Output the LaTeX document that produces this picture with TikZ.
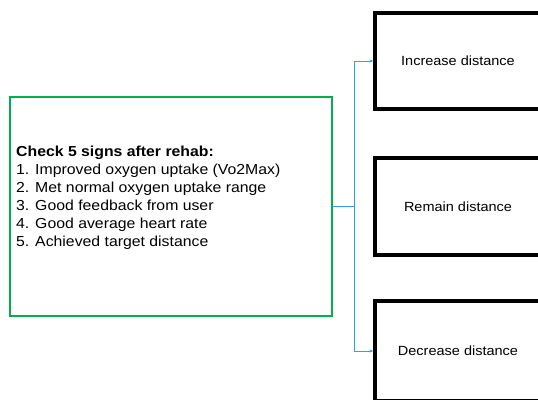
\documentclass[tikz,border=0pt]{standalone}
\usepackage{fontspec}
\setmainfont{Liberation Sans}[FakeStretch=1.09]
\usetikzlibrary{positioning, arrows.meta}

\begin{document}
\begin{tikzpicture}[
  x=1pt, y=-1pt,
  every node/.style={inner sep=2pt},
  checkbox/.style={
    draw=signgreen, line width=2.8pt, rectangle,
    minimum width=322pt, minimum height=219pt,
  },
  outcome/.style={
    draw=black, line width=3.2pt, rectangle, minimum width=166pt,
    align=center, font=\fontsize{13.3}{15}\selectfont,
  },
  link/.style={draw=linkblue, line width=0.8pt},
  arr/.style={-{Stealth[length=4pt,width=3pt]}, link},
]
\definecolor{signgreen}{RGB}{0,176,80}
\definecolor{linkblue}{RGB}{40,160,255}

\useasboundingbox (0,0) rectangle (538,399);
\clip (0,0) rectangle (538,399);

% ── Row y-positions ────────────────────────────────────────────────
\def\rTop{61}
\def\rMid{206.5}
\def\rBot{351}

% ── Column x-positions ─────────────────────────────────────────────
\def\cCheck{171}
\def\cBus{354}
\def\cOut{458}

% ── Checklist box ──────────────────────────────────────────────────
\node[checkbox] (check) at (\cCheck,\rMid) {};
\node[anchor=west, align=left, inner sep=0pt,
      font=\fontsize{14.5}{18}\selectfont] (signs) at (16,198)
  {\textbf{Check 5 signs after rehab:}\\
   1. Improved oxygen uptake (Vo2Max)\\
   2. Met normal oxygen uptake range\\
   3. Good feedback from user\\
   4. Good average heart rate\\
   5. Achieved target distance};

% ── Outcomes ───────────────────────────────────────────────────────
\node[outcome, minimum height=96pt]  (inc) at (\cOut,\rTop) {Increase distance};
\node[outcome, minimum height=97pt]  (rem) at (\cOut,\rMid) {Remain distance};
\node[outcome, minimum height=100pt] (dec) at (\cOut,\rBot) {Decrease distance};

% ── Checklist -> outcomes ──────────────────────────────────────────
\coordinate (bus) at (\cBus,\rMid);
\draw[link] (check.east) -- (bus);
\draw[arr] (bus) |- (inc.west);
\draw[arr] (bus) |- (dec.west);

\end{tikzpicture}
\end{document}
